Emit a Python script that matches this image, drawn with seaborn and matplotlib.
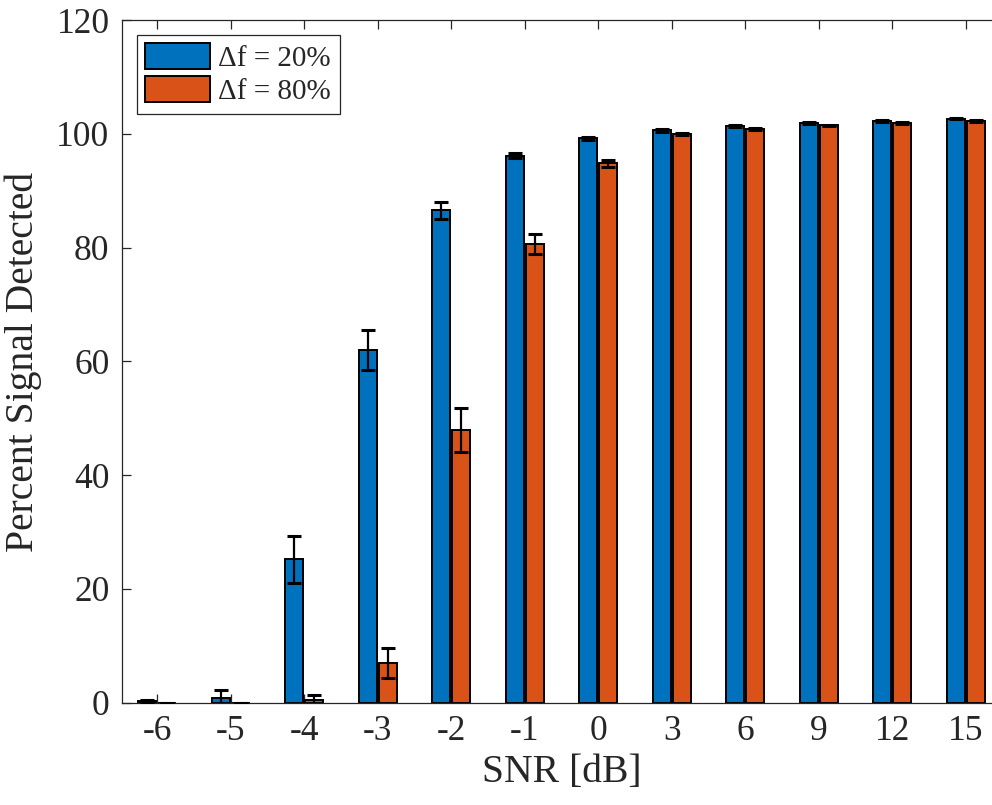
import numpy as np
import pandas as pd
import matplotlib
matplotlib.use("Agg")
import matplotlib.pyplot as plt
import seaborn as sns

# SNR categories
snr = ["-6", "-5", "-4", "-3", "-2", "-1", "0", "3", "6", "9", "12", "15"]
series = ["\u0394f = 20%", "\u0394f = 80%"]

# mean percent detected and error (half-width) per series
det_20 = [0.3, 0.8, 25.2, 62.0, 86.6, 96.2, 99.2, 100.6, 101.4, 101.9, 102.3, 102.7]
err_20 = [0.1, 1.5, 4.1, 3.5, 1.5, 0.5, 0.3, 0.2, 0.15, 0.15, 0.15, 0.15]
det_80 = [0.0, 0.0, 0.4, 7.0, 48.0, 80.6, 94.8, 100.0, 100.9, 101.5, 101.9, 102.3]
err_80 = [0.0, 0.0, 0.9, 2.7, 3.9, 1.8, 0.6, 0.2, 0.15, 0.15, 0.15, 0.15]

colors = ["#0072BD", "#D95319"]

df = pd.DataFrame({
    "snr": snr * 2,
    "det": det_20 + det_80,
    "series": [series[0]] * len(snr) + [series[1]] * len(snr),
})

sns.set_style("ticks")
plt.rcParams["font.family"] = ["Liberation Serif", "DejaVu Serif"]

fig = plt.figure(figsize=(9.92, 8.05), dpi=100)
# right edge of the box falls just outside the picture, as in the original
ax = fig.add_axes([0.123, 0.127, 0.886, 0.848])

sns.barplot(data=df, x="snr", y="det", hue="series", order=snr,
            hue_order=series, palette=colors, width=0.545, gap=0.1,
            errorbar=None, edgecolor="black", linewidth=1.4, ax=ax,
            saturation=1)

# error bars at the bar centres
for cont, errs in zip(ax.containers, [err_20, err_80]):
    xs = [p.get_x() + p.get_width() / 2 for p in cont.patches]
    hs = [p.get_height() for p in cont.patches]
    ax.errorbar(xs, hs, yerr=errs, fmt="none", ecolor="black",
                elinewidth=1.6, capsize=4.7, capthick=2.2, zorder=5)

ax.set_xlim(-0.48, 11.48)
ax.set_ylim(0, 120)
ax.set_yticks(np.arange(0, 121, 20))
ax.set_xlabel("SNR [dB]", fontsize=28.5, labelpad=4)
ax.set_ylabel("Percent Signal Detected", fontsize=28.5, labelpad=10)

ax.tick_params(direction="in", length=6.5, width=0.9, labelsize=25.5,
               top=True, right=True, colors="#262626", pad=9)
for s in ax.spines.values():
    s.set_visible(True)
    s.set_color("#262626")
    s.set_linewidth(0.9)

leg = ax.legend(loc="upper left", fontsize=21, frameon=True, fancybox=False,
                framealpha=1, edgecolor="#262626", handlelength=2.2,
                handleheight=0.95, handletextpad=0.3, borderpad=0.3,
                labelspacing=0.15, borderaxespad=0.5)
leg.get_frame().set_linewidth(0.9)

fig.savefig("out.png", dpi=100)
